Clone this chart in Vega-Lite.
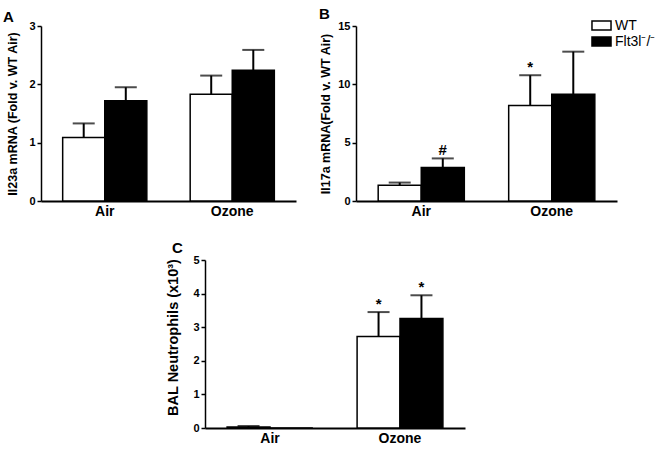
{
  "$schema": "https://vega.github.io/schema/vega-lite/v6.json",
  "padding": {"left": 3, "top": 7, "right": 5, "bottom": 5},
  "config": {
    "view": {"stroke": null},
    "font": "Liberation Sans",
    "axis": {"labelFont": "Liberation Sans", "titleFont": "Liberation Sans", "labelColor": "black", "titleColor": "black", "domainColor": "black", "tickColor": "black", "grid": false, "labelOverlap": false},
    "title": {"font": "Liberation Sans", "fontSize": 15, "fontWeight": "bold", "anchor": "start", "frame": "group", "color": "black"},
    "legend": {"labelFont": "Liberation Sans", "labelColor": "black"}
  },
  "spacing": 23,
  "resolve": {"scale": {"x": "independent", "y": "independent", "xOffset": "independent", "fill": "independent"}, "legend": {"fill": "independent"}},
  "vconcat": [
    {
      "spacing": 60,
      "bounds": "flush",
      "resolve": {"scale": {"x": "independent", "y": "independent", "xOffset": "independent", "fill": "independent"}, "legend": {"fill": "independent"}},
      "hconcat": [
        {
          "width": 255, "height": 175,
          "title": {"text": "A", "dx": -38, "offset": -5},
          "data": {"values": [
            {"group": "Air", "geno": "WT", "value": 1.09, "err": 1.33},
            {"group": "Air", "geno": "Flt3l⁻/⁻", "value": 1.72, "err": 1.95},
            {"group": "Ozone", "geno": "WT", "value": 1.83, "err": 2.15},
            {"group": "Ozone", "geno": "Flt3l⁻/⁻", "value": 2.24, "err": 2.59}
          ]},
          "encoding": {
            "x": {"field": "group", "type": "nominal", "sort": ["Air", "Ozone"], "scale": {"paddingInner": 0.34, "paddingOuter": 0.17}, "axis": {"title": null, "ticks": false, "labelAngle": 0, "labelFontSize": 14, "labelFontWeight": "bold", "domainWidth": 2, "labelPadding": 3}},
            "xOffset": {"field": "geno", "type": "nominal", "sort": ["WT", "Flt3l⁻/⁻"], "scale": {"paddingInner": 0, "paddingOuter": 0}}
          },
          "layer": [
            {"mark": {"type": "bar", "stroke": "black", "strokeWidth": 1.5},
             "encoding": {
               "y": {"field": "value", "type": "quantitative", "scale": {"domain": [0, 3], "nice": false}, "axis": {"values": [0, 1, 2, 3], "format": "d", "title": "Il23a mRNA (Fold v.  WT Air)", "titleFontSize": 12.5, "titleFontWeight": "bold", "titleX": -22, "titleY": 87.5, "labelFontSize": 11, "labelFontWeight": "bold", "tickSize": 4, "tickWidth": 1.5, "domainWidth": 1.5, "labelPadding": 2}},
               "fill": {"field": "geno", "type": "nominal", "scale": {"domain": ["WT", "Flt3l⁻/⁻"], "range": ["white", "black"]}, "legend": null}
             }},
            {"mark": {"type": "rule", "strokeWidth": 2, "color": "black"},
             "encoding": {"y": {"field": "value", "type": "quantitative"}, "y2": {"field": "err"}}},
            {"mark": {"type": "tick", "size": 22, "thickness": 2, "color": "black"},
             "encoding": {"y": {"field": "err", "type": "quantitative"}}}
          ]
        },
        {
          "width": 261, "height": 175,
          "title": {"text": "B", "dx": -37, "offset": -5},
          "data": {"values": [
            {"group": "Air", "geno": "WT", "value": 1.35, "err": 1.58, "sig": ""},
            {"group": "Air", "geno": "Flt3l⁻/⁻", "value": 2.87, "err": 3.65, "sig": "#"},
            {"group": "Ozone", "geno": "WT", "value": 8.18, "err": 10.78, "sig": "*"},
            {"group": "Ozone", "geno": "Flt3l⁻/⁻", "value": 9.16, "err": 12.8, "sig": ""}
          ]},
          "encoding": {
            "x": {"field": "group", "type": "nominal", "sort": ["Air", "Ozone"], "scale": {"paddingInner": 0.34, "paddingOuter": 0.17}, "axis": {"title": null, "ticks": false, "labelAngle": 0, "labelFontSize": 14, "labelFontWeight": "bold", "domainWidth": 2, "labelPadding": 3}},
            "xOffset": {"field": "geno", "type": "nominal", "sort": ["WT", "Flt3l⁻/⁻"], "scale": {"paddingInner": 0, "paddingOuter": 0}}
          },
          "layer": [
            {"mark": {"type": "bar", "stroke": "black", "strokeWidth": 1.5},
             "encoding": {
               "y": {"field": "value", "type": "quantitative", "scale": {"domain": [0, 15], "nice": false}, "axis": {"values": [0, 5, 10, 15], "format": "d", "title": "Il17a mRNA(Fold v.  WT Air)", "titleFontSize": 12.5, "titleFontWeight": "bold", "titleX": -24, "titleY": 87.5, "labelFontSize": 11, "labelFontWeight": "bold", "tickSize": 4, "tickWidth": 1.5, "domainWidth": 1.5, "labelPadding": 2}},
               "fill": {"field": "geno", "type": "nominal", "scale": {"domain": ["WT", "Flt3l⁻/⁻"], "range": ["white", "black"]},
                 "legend": {"orient": "none", "legendX": 237, "legendY": -9, "title": null, "symbolType": "M-1.27,-0.6H1.27V0.6H-1.27Z", "symbolSize": 225, "symbolStrokeColor": "black", "symbolStrokeWidth": 1.5, "labelFontSize": 14, "labelOffset": 5, "rowPadding": 0, "padding": 0}}
             }},
            {"mark": {"type": "rule", "strokeWidth": 2, "color": "black"},
             "encoding": {"y": {"field": "value", "type": "quantitative"}, "y2": {"field": "err"}}},
            {"mark": {"type": "tick", "size": 22, "thickness": 2, "color": "black"},
             "encoding": {"y": {"field": "err", "type": "quantitative"}}},
            {"mark": {"type": "text", "fontSize": 15, "fontWeight": "bold", "baseline": "alphabetic", "dy": -3, "color": "black"},
             "encoding": {"y": {"field": "err", "type": "quantitative"}, "text": {"field": "sig"}}}
          ]
        }
      ]
    },
    {
      "spacing": 20,
      "bounds": "flush",
      "resolve": {"scale": {"x": "independent", "y": "independent", "xOffset": "independent", "fill": "independent"}, "legend": {"fill": "independent"}},
      "hconcat": [
        {"width": 144, "height": 10, "data": {"values": [{"a": 0}]}, "mark": {"type": "point", "opacity": 0}, "encoding": {}},
        {
          "width": 260, "height": 168,
          "title": {"text": "C", "dx": -33, "offset": -2},
          "data": {"values": [
            {"group": "Air", "geno": "WT", "value": 0.03, "err": 0.06, "sig": ""},
            {"group": "Air", "geno": "Flt3l⁻/⁻", "value": 0.0, "err": null, "sig": ""},
            {"group": "Ozone", "geno": "WT", "value": 2.72, "err": 3.45, "sig": "*"},
            {"group": "Ozone", "geno": "Flt3l⁻/⁻", "value": 3.26, "err": 3.95, "sig": "*"}
          ]},
          "encoding": {
            "x": {"field": "group", "type": "nominal", "sort": ["Air", "Ozone"], "scale": {"paddingInner": 0.34, "paddingOuter": 0.17}, "axis": {"title": null, "ticks": false, "labelAngle": 0, "labelFontSize": 14, "labelFontWeight": "bold", "domainWidth": 2, "labelPadding": 3}},
            "xOffset": {"field": "geno", "type": "nominal", "sort": ["WT", "Flt3l⁻/⁻"], "scale": {"paddingInner": 0, "paddingOuter": 0}}
          },
          "layer": [
            {"mark": {"type": "bar", "stroke": "black", "strokeWidth": 1.5},
             "encoding": {
               "y": {"field": "value", "type": "quantitative", "scale": {"domain": [0, 5], "nice": false}, "axis": {"values": [0, 1, 2, 3, 4, 5], "tickCount": 6, "format": "d", "title": "BAL Neutrophils  (x10³)", "titleFontSize": 14.5, "titleFontWeight": "bold", "titleX": -25, "titleY": 77, "labelFontSize": 11, "labelFontWeight": "bold", "tickSize": 4, "tickWidth": 1.5, "domainWidth": 1.5, "labelPadding": 2}},
               "fill": {"field": "geno", "type": "nominal", "scale": {"domain": ["WT", "Flt3l⁻/⁻"], "range": ["white", "black"]}, "legend": null}
             }},
            {"mark": {"type": "rule", "strokeWidth": 2, "color": "black"},
             "encoding": {"y": {"field": "value", "type": "quantitative"}, "y2": {"field": "err"}}},
            {"mark": {"type": "tick", "size": 22, "thickness": 2, "color": "black"},
             "encoding": {"y": {"field": "err", "type": "quantitative"}}},
            {"mark": {"type": "text", "fontSize": 15, "fontWeight": "bold", "baseline": "alphabetic", "dy": -3, "color": "black"},
             "encoding": {"y": {"field": "err", "type": "quantitative"}, "text": {"field": "sig"}}}
          ]
        }
      ]
    }
  ]
}
